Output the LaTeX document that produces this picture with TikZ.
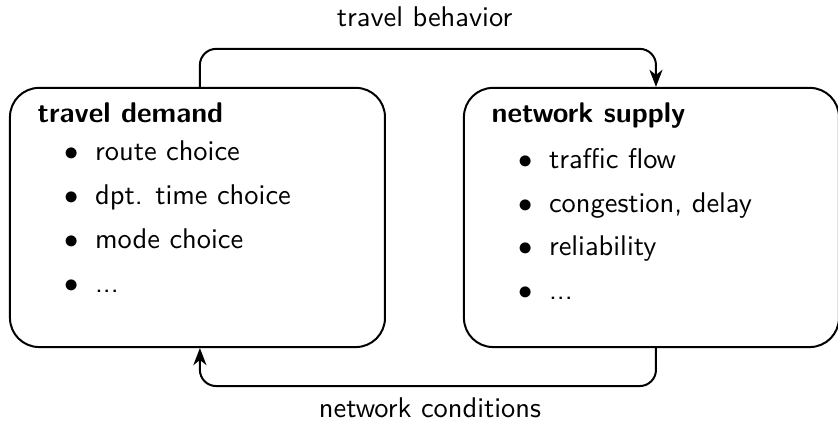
\documentclass[tikz,border=0pt]{standalone}
\usetikzlibrary{positioning,arrows.meta}
\newcommand{\li}[1]{\hspace*{9.5pt}\makebox[10.7pt][l]{$\bullet$}#1}

\begin{document}
\begin{tikzpicture}[font=\sffamily,
  blockbox/.style={draw, line width=0.7pt, rounded corners=0.36cm, minimum width=4.63cm, minimum height=3.2cm, inner sep=0},
  blocktext/.style={anchor=north west, inner sep=0, align=left},
  feedback/.style={draw, line width=0.7pt, rounded corners=0.2cm, -{Stealth[length=6pt,width=4.6pt,inset=1.8pt]}}]
\useasboundingbox (0,0) rectangle (10.346,5.259);
%%%% Boxes:
\node[blockbox] (demand) at (2.438,2.574) {};
\node[blockbox, right=0.95cm of demand] (supply) {};
%%%% Box contents
\node[blocktext] (demandtext) at ([xshift=0.346cm,yshift=-0.192cm]demand.north west)
  {\textbf{travel demand}\\[1.1pt]
   \li{route choice}\\[3.5pt]
   \li{dpt. time choice}\\[3.5pt]
   \li{mode choice}\\[3.5pt]
   \li{...}};
\node[blocktext] (supplytext) at ([xshift=0.346cm,yshift=-0.192cm]supply.north west)
  {\textbf{network supply}\\[4.2pt]
   \li{traffic flow}\\[3.3pt]
   \li{congestion, delay}\\[3.3pt]
   \li{reliability}\\[3.3pt]
   \li{...}};
%%%% Feedback arrows
\draw[feedback] ([xshift=0.03cm]demand.north) -- ++(0,0.469) -| ([xshift=0.056cm]supply.north);
\draw[feedback] ([xshift=0.056cm]supply.south) -- ++(0,-0.469) -| ([xshift=0.03cm]demand.south);
%%%% Arrow labels
\node[anchor=base] (behavior) at (5.241,4.926) {travel behavior};
\node[anchor=base] (conditions) at (5.309,0.099) {network conditions};
\end{tikzpicture}
\end{document}
